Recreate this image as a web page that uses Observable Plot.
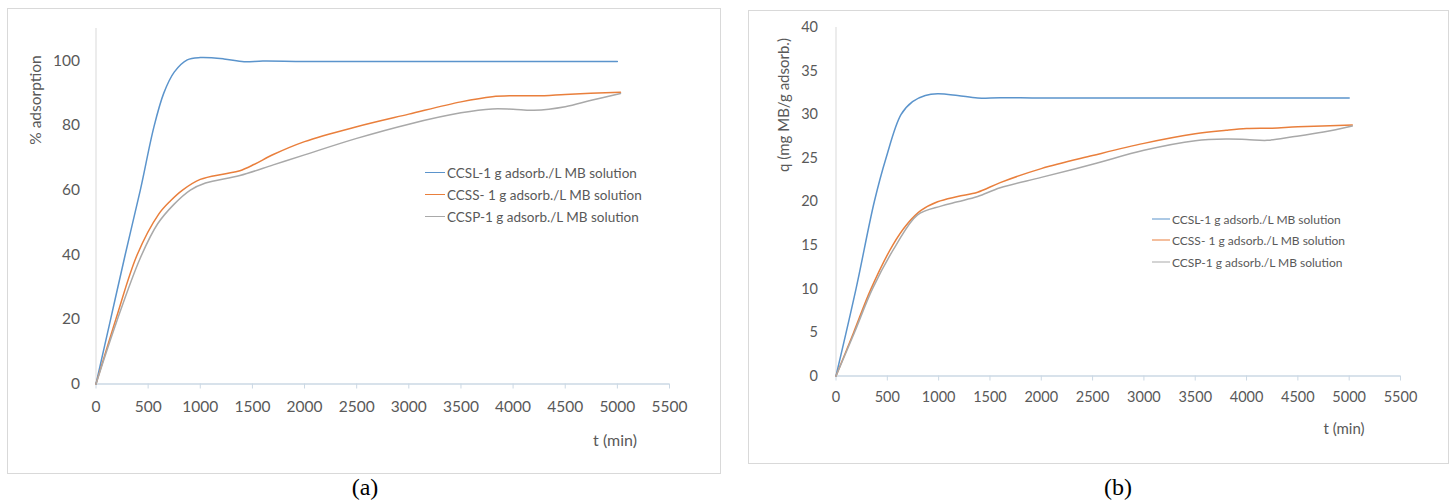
<!DOCTYPE html>
<html>
<head>
<meta charset="utf-8">
<script src="https://cdn.jsdelivr.net/npm/d3@7"></script>
<script src="https://cdn.jsdelivr.net/npm/@observablehq/plot@0.6"></script>
<style>
  body { margin:0; background:#fff; }
  #root { position:relative; width:1451px; height:504px; overflow:hidden; background:#fff; font-family:Lato, "Open Sans", sans-serif; color:#595959; }
  .abs { position:absolute; white-space:nowrap; }
  .frame { position:absolute; border:1px solid #d9d9d9; box-sizing:border-box; }
  .leg { position:absolute; display:flex; align-items:center; white-space:nowrap; }
  .leg span.sw { display:inline-block; height:0; border-top:1.5px solid; margin-right:2px; }
  .cap { position:absolute; font-family:"Liberation Serif","DejaVu Serif",serif; font-size:24px; color:#000; transform:translateX(-50%); }
</style>
</head>
<body>
<div id="root"></div>
<script>
// ---- data ----
const seriesNames = ["CCSL-1 g adsorb./L MB solution", "CCSS- 1 g adsorb./L MB solution", "CCSP-1 g adsorb./L MB solution"];
const seriesColors = ["#5b94cc", "#e97f3c", "#a9a9a9"];
const xTicks = [0, 500, 1000, 1500, 2000, 2500, 3000, 3500, 4000, 4500, 5000, 5500];
const yTicksA = [0, 20, 40, 60, 80, 100];
const yTicksB = [0, 5, 10, 15, 20, 25, 30, 35, 40];

// (a) % adsorption
const tA_CCSL = [0, 140, 280, 425, 555, 650, 750, 875, 1000, 1225, 1420, 1600, 2000, 3000, 4000, 5000];
const pA_CCSL = [0, 20, 40, 60, 79.5, 90, 96.5, 100.3, 101.0, 100.6, 99.7, 99.95, 99.8, 99.8, 99.8, 99.8];
const tA_CCSS = [0, 190, 395, 600, 715, 830, 1000, 1230, 1380, 1520, 1700, 2000, 2500, 3000, 3500, 3800, 4000, 4300, 4500, 5030];
const pA_CCSS = [0, 20, 40, 52.5, 56.7, 60, 63.3, 65, 66, 68, 71, 75, 79.6, 83.5, 87.3, 88.9, 89.2, 89.2, 89.6, 90.3];
const tA_CCSP = [0, 200, 425, 590, 745, 905, 1050, 1380, 1700, 2000, 2500, 3000, 3500, 3800, 4000, 4200, 4500, 4750, 5030];
const pA_CCSP = [0, 19.5, 39, 49.5, 55.5, 60, 62.2, 64.5, 67.8, 70.9, 76, 80.4, 83.9, 85.1, 85.0, 84.7, 85.8, 87.8, 89.9];

// (b) q (mg MB/g adsorb.)
const tB_CCSL = [0, 195, 373, 487, 633, 746, 870, 990, 1185, 1380, 1600, 2000, 3000, 4000, 5000];
const qB_CCSL = [0, 10, 20, 25, 30, 31.5, 32.2, 32.4, 32.2, 31.9, 31.95, 31.9, 31.9, 31.9, 31.9];
const tB_CCSS = [0, 172, 341, 552, 698, 828, 990, 1185, 1380, 1600, 2000, 2500, 3000, 3500, 3800, 4000, 4250, 4500, 5030];
const qB_CCSS = [0, 5, 10, 15, 17.5, 19, 20, 20.6, 21.1, 22.2, 23.8, 25.3, 26.7, 27.8, 28.2, 28.4, 28.45, 28.6, 28.8];
const tB_CCSP = [0, 180, 355, 584, 795, 1022, 1185, 1380, 1600, 2000, 2500, 3000, 3500, 3800, 4000, 4200, 4450, 4750, 5030];
const qB_CCSP = [0, 5, 10, 15, 18.5, 19.5, 20, 20.6, 21.6, 22.8, 24.3, 25.9, 27.0, 27.2, 27.15, 27.05, 27.45, 28.0, 28.7];

function rows(ts, vs) {
  return ts.flatMap((t, k) => t.map((x, i) => ({t: x, v: vs[k][i], key: seriesNames[k]})));
}
const dataA = rows([tA_CCSL, tA_CCSS, tA_CCSP], [pA_CCSL, pA_CCSS, pA_CCSP]);
const dataB = rows([tB_CCSL, tB_CCSS, tB_CCSP], [qB_CCSL, qB_CCSS, qB_CCSP]);

function makePlot(data, yDomain, yTicks, opt) {
  return Plot.plot({
    width: opt.width, height: 470,
    marginLeft: opt.ml, marginRight: opt.mr, marginTop: opt.mt, marginBottom: 470 - opt.y0,
    x: {domain: [0, 5500], ticks: xTicks},
    y: {domain: yDomain, ticks: yTicks},
    color: {domain: seriesNames, range: seriesColors},
    style: {fontFamily: "Lato, 'Open Sans', sans-serif", color: "#595959", background: "transparent", overflow: "visible"},
    marks: [
      Plot.ruleX([0], {y1: yDomain[0], y2: yDomain[1], stroke: "#d9d9d9", strokeWidth: 1}),
      Plot.axisY({ticks: yTicks, tickSize: 0, tickPadding: opt.yPad, label: null, fontSize: opt.fs, fill: "#595959"}),
      Plot.axisX({ticks: xTicks, tickSize: 5, tickPadding: opt.xPad, label: null, fontSize: opt.fs, fill: "#595959", stroke: "#cbd8e4", tickFormat: d => String(d)}),
      Plot.ruleY([0], {stroke: "#cbd8e4", strokeWidth: 1.5}),
      Plot.line(data, {x: "t", y: "v", z: "key", stroke: "key", curve: "catmull-rom", strokeWidth: 1.5})
    ]
  });
}

const root = document.getElementById("root");
function add(html) { root.insertAdjacentHTML("beforeend", html); }

add(`<div class="frame" style="left:7px;top:8px;width:714px;height:466px"></div>`);
add(`<div class="frame" style="left:748px;top:10px;width:701px;height:454px"></div>`);

const pa = makePlot(dataA, [0, 110], yTicksA, {width: 720, ml: 95.5, mr: 51, mt: 28, y0: 383.5, yPad: 16, xPad: 12, fs: 15.5});
pa.style.position = "absolute"; pa.style.left = "0px"; pa.style.top = "0px";
root.appendChild(pa);

const pb = makePlot(dataB, [0, 40], yTicksB, {width: 721, ml: 105.5, mr: 51, mt: 27, y0: 375.5, yPad: 18, xPad: 11, fs: 14.5});
pb.style.position = "absolute"; pb.style.left = "730px"; pb.style.top = "0px";
root.appendChild(pb);

// axis titles
add(`<div class="abs" style="left:35px;top:100px;font-size:15.5px;transform:translate(-50%,-50%) rotate(-90deg)">% adsorption</div>`);
add(`<div class="abs" style="left:783px;top:105px;font-size:15px;transform:translate(-50%,-50%) rotate(-90deg)">q (mg MB/g adsorb.)</div>`);
add(`<div class="abs" style="left:615px;top:439px;font-size:16px;transform:translate(-50%,-50%)">t (min)</div>`);
add(`<div class="abs" style="left:1344px;top:428px;font-size:15px;transform:translate(-50%,-50%)">t (min)</div>`);

// legends
function legend(x, ys, fs, sw) {
  seriesNames.forEach((n, i) => {
    add(`<div class="leg" style="left:${x}px;top:${ys[i]}px;font-size:${fs}px;transform:translateY(-50%)"><span class="sw" style="width:${sw}px;border-color:${seriesColors[i]}"></span>${n}</div>`);
  });
}
legend(425, [172.5, 194.5, 216.5], 13.5, 20);
legend(1152, [218.5, 240, 262], 12, 18);

// captions
add(`<div class="cap" style="left:365px;top:474px">(a)</div>`);
add(`<div class="cap" style="left:1118px;top:474px">(b)</div>`);
</script>
</body>
</html>
